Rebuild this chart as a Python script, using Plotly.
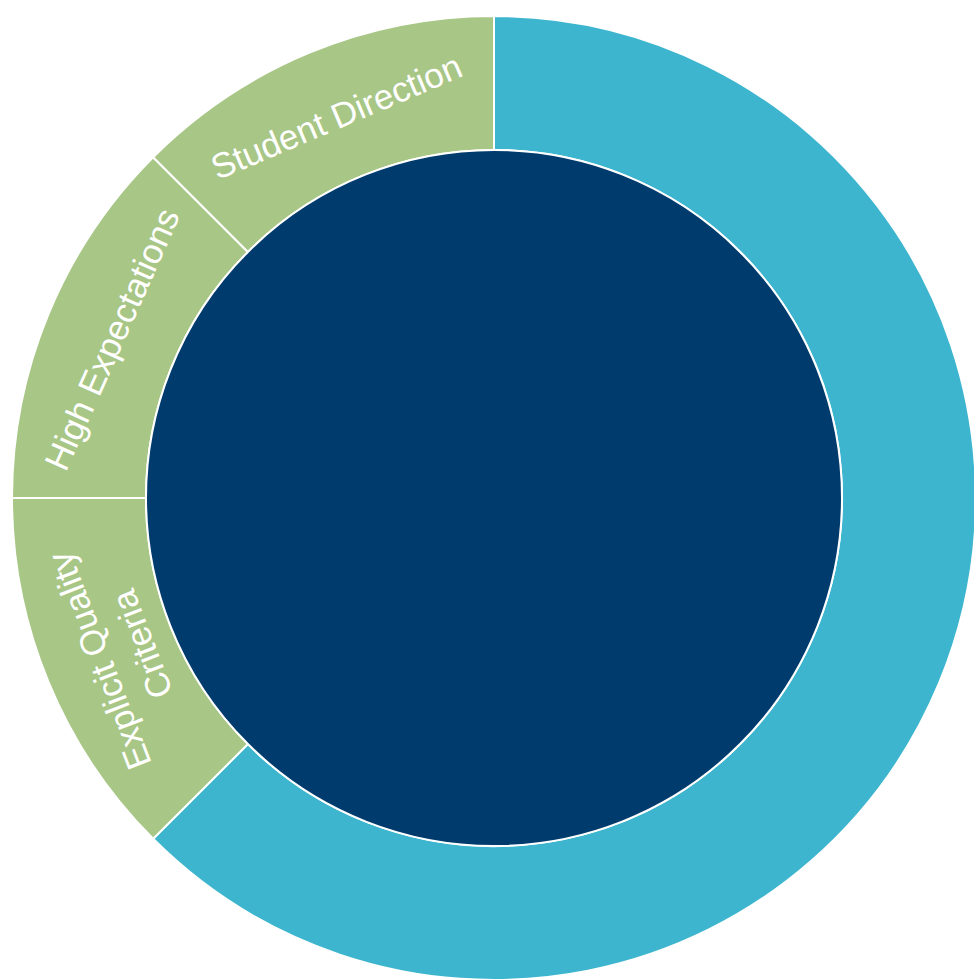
import math
import plotly.graph_objects as go

# data
center_label = ["Core"]
center_value = [1]
ring_labels = ["Other", "Explicit Quality Criteria", "High Expectations", "Student Direction"]
ring_text = ["", "Explicit Quality<br>Criteria", "High Expectations", "Student Direction"]
ring_values = [5, 1, 1, 1]
ring_colors = ["#3DB5CE", "#A8C686", "#A8C686", "#A8C686"]
center_color = "#003B6D"
label_angles = [0, -111, -66, -23]
label_radius = [0, 404, 414, 413]

W, H = 976, 980
CX, CY = 494, 980 - 498      # pie centre in px (from left / from bottom)
R_OUT, R_IN = 482, 348

fig = go.Figure()
fig.add_trace(go.Pie(
    labels=ring_labels, values=ring_values,
    sort=False, direction="clockwise", rotation=0,
    hole=R_IN / R_OUT,
    marker=dict(colors=ring_colors, line=dict(color="white", width=2)),
    textinfo="none",
    domain=dict(x=[(CX - R_OUT) / W, min(1, (CX + R_OUT) / W)],
                y=[max(0, (CY - R_OUT) / H), (CY + R_OUT) / H]),
    hoverinfo="label", showlegend=False,
))
fig.add_trace(go.Pie(
    labels=center_label, values=center_value,
    sort=False, textinfo="none",
    marker=dict(colors=[center_color], line=dict(color="white", width=2)),
    domain=dict(x=[(CX - R_IN) / W, (CX + R_IN) / W], y=[(CY - R_IN) / H, (CY + R_IN) / H]),
    hoverinfo="label", showlegend=False,
))

# labels placed at the middle of each ring slice
total = sum(ring_values)
cum = 0
for txt, v, ang, rr in zip(ring_text, ring_values, label_angles, label_radius):
    mid = math.radians(90 - 360 * (cum + v / 2) / total)
    cum += v
    if not txt:
        continue
    fig.add_annotation(
        x=(CX + rr * math.cos(mid)) / W, y=(CY + rr * math.sin(mid)) / H,
        xref="paper", yref="paper", text=txt, showarrow=False, textangle=ang,
        xanchor="center", yanchor="middle", align="center",
        font=dict(family="Liberation Sans, Arial", size=35, color="white"),
    )

fig.update_layout(width=W, height=H, margin=dict(l=0, r=0, t=0, b=0),
                  paper_bgcolor="white", plot_bgcolor="white")
fig.write_html("out.html", config={"displayModeBar": False},
               post_script="document.body.style.margin='0';document.documentElement.style.overflow='hidden';document.body.style.overflow='hidden';")
